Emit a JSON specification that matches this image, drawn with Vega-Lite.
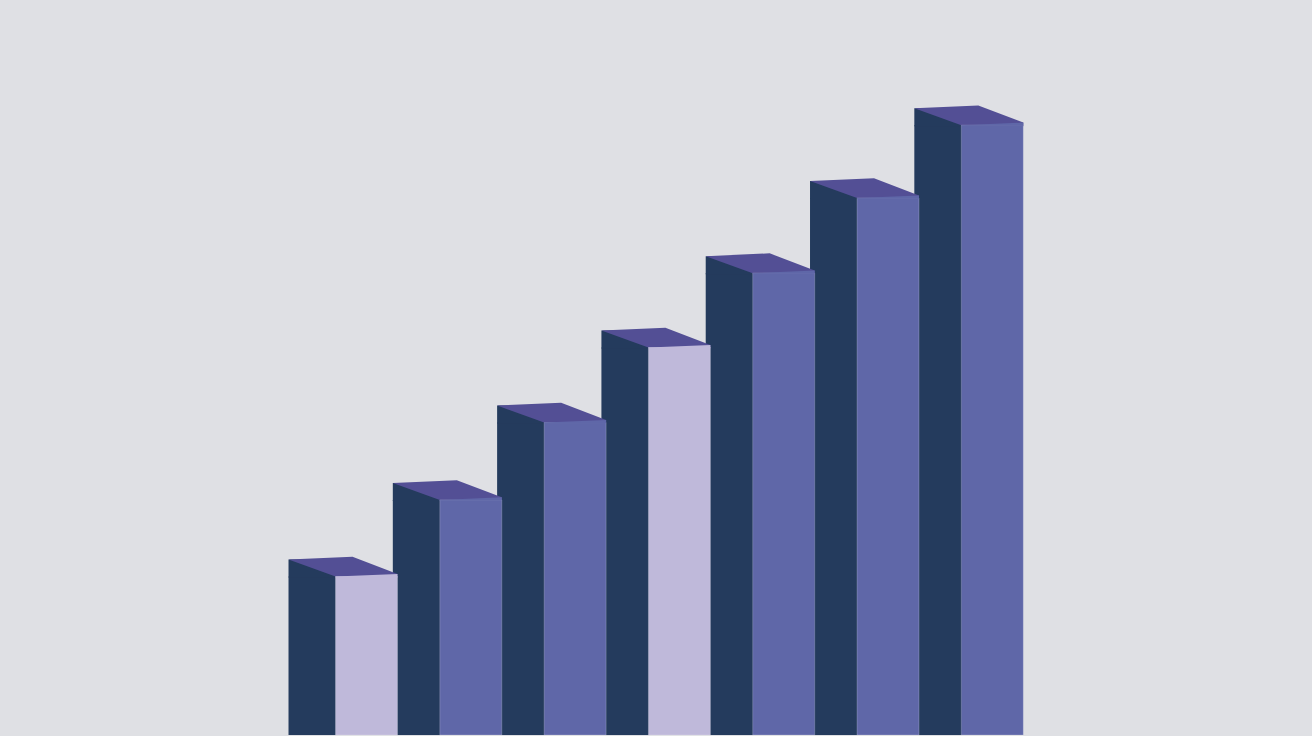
{
  "$schema": "https://vega.github.io/schema/vega-lite/v6.json",
  "description": "Seven ascending pseudo-3D bars, two of them highlighted, no axes or text.",
  "width": 1312,
  "height": 736,
  "autosize": {"type": "fit", "contains": "padding"},
  "padding": 0,
  "background": "#dfe0e4",
  "config": {"view": {"stroke": null}},
  "data": {
    "values": [
      {"bar": 1, "value": 2.11, "flag": "marked"},
      {"bar": 2, "value": 3.13, "flag": "normal"},
      {"bar": 3, "value": 4.16, "flag": "normal"},
      {"bar": 4, "value": 5.16, "flag": "marked"},
      {"bar": 5, "value": 6.15, "flag": "normal"},
      {"bar": 6, "value": 7.15, "flag": "normal"},
      {"bar": 7, "value": 8.12, "flag": "normal"}
    ]
  },
  "encoding": {
    "x": {
      "field": "bar",
      "type": "quantitative",
      "scale": {"domain": [-2.514, 10.065], "nice": false, "zero": false, "padding": 0},
      "axis": null
    },
    "y": {
      "field": "value",
      "type": "quantitative",
      "scale": {"domain": [0, 9.787], "nice": false, "padding": 0},
      "axis": null
    }
  },
  "layer": [
    {
      "mark": {"type": "bar", "width": 50, "xOffset": -53, "color": "#243b5d", "cornerRadius": 0},
      "encoding": {"y2": {"datum": 0}}
    },
    {
      "mark": {
        "type": "point",
        "shape": "M -78 -17 L -28 -17 L -28 1 L -78 1 Z",
        "size": 4,
        "filled": true,
        "opacity": 1,
        "strokeWidth": 0,
        "color": "#243b5d"
      }
    },
    {
      "mark": {
        "type": "point",
        "shape": "M -78 -17 L -14 -19.8 L 31 -2.6 L 31 1 L -31 1 L -31 0 Z",
        "size": 4,
        "filled": true,
        "opacity": 1,
        "strokeWidth": 0,
        "color": "#534f95"
      }
    },
    {
      "mark": {
        "type": "bar",
        "width": 62,
        "cornerRadius": 0,
        "stroke": "#ffffff",
        "strokeOpacity": 0.2,
        "strokeWidth": 1
      },
      "encoding": {
        "y2": {"datum": 0},
        "color": {
          "field": "flag",
          "type": "nominal",
          "scale": {"domain": ["marked", "normal"], "range": ["#bfb9da", "#5f67a8"]},
          "legend": null
        }
      }
    },
    {
      "mark": {
        "type": "point",
        "shape": "M -31 0.6 L -31 0 L 31 -2.6 L 31 0.6 Z",
        "size": 4,
        "filled": true,
        "opacity": 1,
        "strokeWidth": 0
      },
      "encoding": {
        "color": {
          "field": "flag",
          "type": "nominal",
          "scale": {"domain": ["marked", "normal"], "range": ["#bfb9da", "#5f67a8"]},
          "legend": null
        }
      }
    }
  ]
}
